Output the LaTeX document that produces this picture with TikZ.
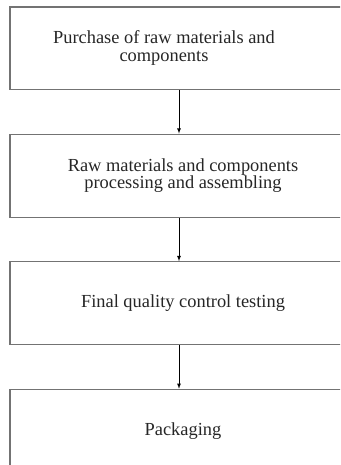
\documentclass[tikz,border=0pt]{standalone}
\usepackage{fontspec}
\setmainfont{Liberation Serif}
\usetikzlibrary{positioning}
\usetikzlibrary{arrows}
\tikzset{
  stage/.style={
    % The shape:
    shape=rectangle,
    % The size:
    minimum width=346pt,minimum height=83pt,
    % The border:
    line width=1.1pt,
    draw=black!55
  }}
\tikzset{
	caption/.style={
		align=center,inner sep=0pt,
		text=black!85,
		font=\fontsize{18.4}{17.6}\selectfont}}

\begin{document}
\begin{tikzpicture}[x=1pt,y=1pt,node distance=43.5pt]
	\useasboundingbox (0,0) rectangle (340,465);
	\clip (0,0) rectangle (340,465);
	% The boxes
	\node[stage,minimum height=82.5pt] (purchase) at (183,416.75) {};
	\node[stage,below=of purchase] (process) {};
	\node[stage,below=of process] (testing) {};
	\node[stage,below=of testing] (packaging) {};
	% The texts
	\node[caption] at ([xshift=-19pt]purchase.center) {Purchase of raw materials and\\components};
	\node[caption] at (process.center) {Raw materials and components\\processing and assembling};
	\node[caption] at (testing.center) {Final quality control testing};
	\node[caption] at (packaging.center) {Packaging};
	% Lines between the boxes
	\draw[-latex,thick] ([xshift=-4pt]purchase.south) -- ([xshift=-4pt]process.north);
	\draw[-latex,thick] ([xshift=-4pt]process.south) -- ([xshift=-4pt]testing.north);
	\draw[-latex,thick] ([xshift=-4pt]testing.south) -- ([xshift=-4pt]packaging.north);
\end{tikzpicture}
\end{document}
